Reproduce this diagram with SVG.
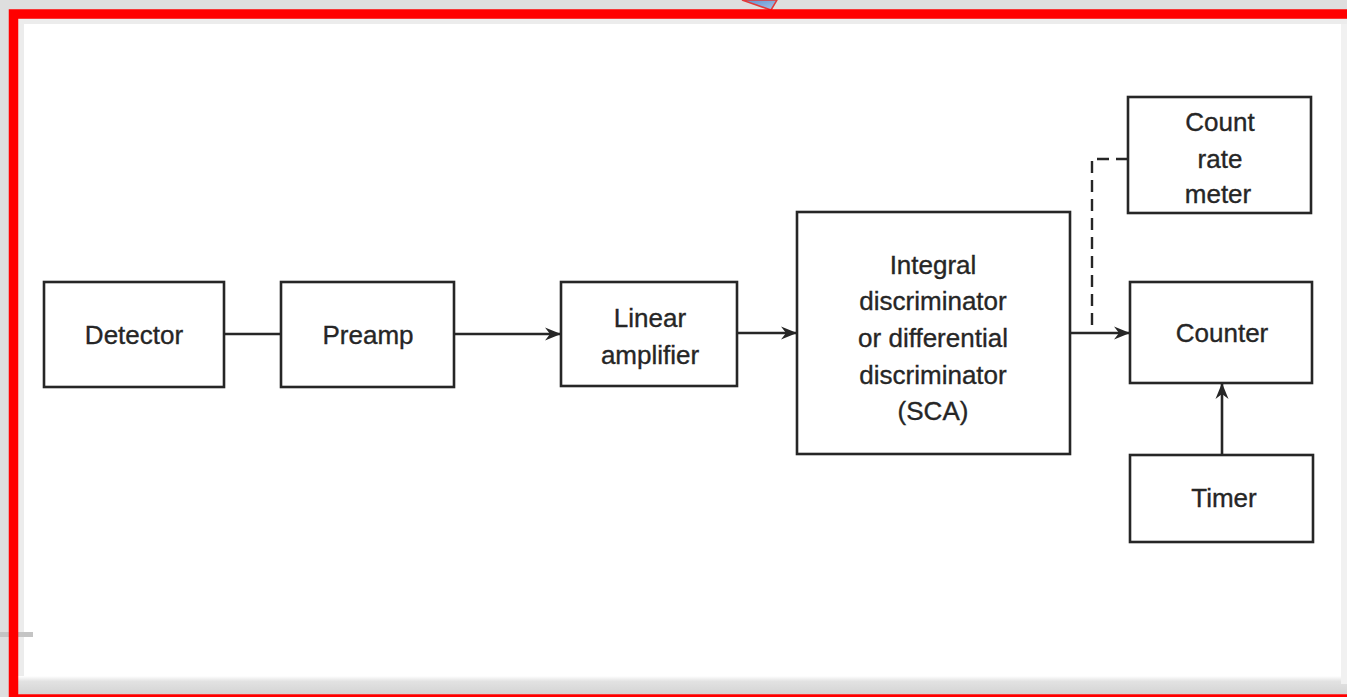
<svg xmlns="http://www.w3.org/2000/svg" width="1347" height="697" viewBox="0 0 1347 697">
  <defs>
    <style>
      .box { fill: #ffffff; stroke: #262626; stroke-width: 2.6; }
      .lbl { font-family: "Liberation Sans", Arial, sans-serif; font-size: 26px; fill: #262626; stroke: #262626; stroke-width: 0.35; text-anchor: middle; }
      .wire { fill: none; stroke: #262626; stroke-width: 2.6; }
      .dash { fill: none; stroke: #262626; stroke-width: 2.4; stroke-dasharray: 12 7; }
    </style>
    <marker id="arrow" viewBox="0 0 16 14" refX="15" refY="7" markerWidth="16" markerHeight="14" markerUnits="userSpaceOnUse" orient="auto">
      <path d="M0,0.5 L16,7 L0,13.5 L5,7 z" fill="#262626"/>
    </marker>
    <linearGradient id="tab" x1="0" y1="0" x2="1" y2="1">
      <stop offset="0" stop-color="#5b8fd0"/>
      <stop offset="1" stop-color="#a8c3e6"/>
    </linearGradient>
    <linearGradient id="floor" x1="0" y1="0" x2="0" y2="1">
      <stop offset="0" stop-color="#ffffff"/>
      <stop offset="0.3" stop-color="#e2e2e2"/>
      <stop offset="1" stop-color="#d4d4d4"/>
    </linearGradient>
  </defs>

  <!-- page backdrop and frame -->
  <rect x="0" y="0" width="1347" height="697" fill="#dedede"/>
  <rect x="18" y="19" width="1329" height="675" fill="#ffffff"/>
  <rect x="18" y="19" width="6" height="664" fill="#ececec"/>
  <rect x="18" y="19" width="1329" height="5" fill="#ececec"/>
  <rect x="18" y="676" width="1329" height="18" fill="url(#floor)"/>
  <rect x="1341" y="24" width="6" height="660" fill="#f1f1f1"/>
  <rect x="0" y="632" width="33" height="5" fill="#c4c4c4"/>
  <polygon points="742,0 777,0 771,10" fill="url(#tab)" stroke="#e23a3a" stroke-width="1.5"/>
  <rect x="13.5" y="14" width="1345" height="685" fill="none" stroke="#ff0000" stroke-width="9.5"/>

  <!-- connectors -->
  <g id="connectors">
    <line class="wire" x1="224" y1="334" x2="281" y2="334"/>
    <line class="wire" x1="454" y1="334" x2="560" y2="334" marker-end="url(#arrow)"/>
    <line class="wire" x1="737" y1="333" x2="796" y2="333" marker-end="url(#arrow)"/>
    <line class="wire" x1="1070" y1="333" x2="1129" y2="333" marker-end="url(#arrow)"/>
    <!-- dashed tap to the count rate meter, drawn from the meter end so a dash meets the box -->
    <polyline class="dash" points="1128,159 1092,159 1092,333"/>
    <line class="wire" x1="1222" y1="455" x2="1222" y2="384" marker-end="url(#arrow)"/>
  </g>

  <g id="detector">
    <rect class="box" x="44" y="282" width="180" height="105"/>
    <text class="lbl" x="134" y="344">Detector</text>
  </g>

  <g id="preamp">
    <rect class="box" x="281" y="282" width="173" height="105"/>
    <text class="lbl" x="368" y="344">Preamp</text>
  </g>

  <g id="linear-amplifier">
    <rect class="box" x="561" y="282" width="176" height="104"/>
    <text class="lbl" x="650" y="327">Linear</text>
    <text class="lbl" x="650" y="364">amplifier</text>
  </g>

  <g id="discriminator">
    <rect class="box" x="797" y="212" width="273" height="242"/>
    <text class="lbl" x="933" y="274">Integral</text>
    <text class="lbl" x="933" y="310">discriminator</text>
    <text class="lbl" x="933" y="347">or differential</text>
    <text class="lbl" x="933" y="384">discriminator</text>
    <text class="lbl" x="933" y="420">(SCA)</text>
  </g>

  <g id="count-rate-meter">
    <rect class="box" x="1128" y="97" width="183" height="116"/>
    <text class="lbl" x="1220" y="131">Count</text>
    <text class="lbl" x="1220" y="168">rate</text>
    <text class="lbl" x="1218" y="203">meter</text>
  </g>

  <g id="counter">
    <rect class="box" x="1130" y="282" width="182" height="101"/>
    <text class="lbl" x="1222" y="342">Counter</text>
  </g>

  <g id="timer">
    <rect class="box" x="1130" y="455" width="183" height="87"/>
    <text class="lbl" x="1224" y="507">Timer</text>
  </g>
</svg>
